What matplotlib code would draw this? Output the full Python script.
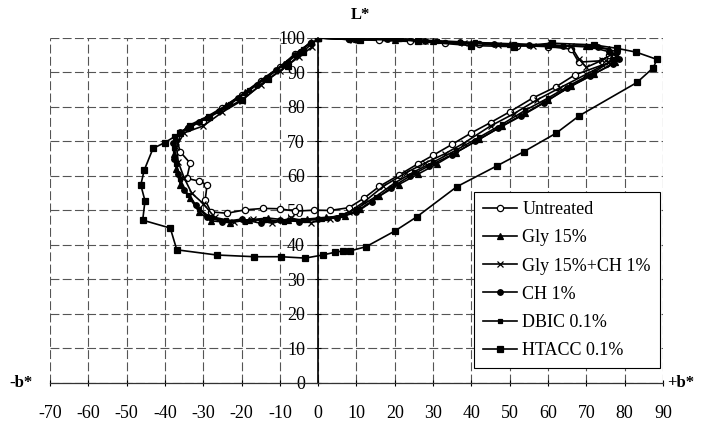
import matplotlib
matplotlib.use("Agg")
import matplotlib.pyplot as plt

plt.rcParams['font.family'] = ['Liberation Serif', 'DejaVu Serif']
plt.rcParams['axes.unicode_minus'] = False

# colour path of each treatment: b* (x) and L* (y)
untreated_b = [0, 8, 16, 24, 33, 42, 52, 60, 66, 68, 74, 76, 75,
               67, 62, 56, 50, 45, 40, 35, 30, 26, 21, 16, 12, 8, 3, -1, -6, -10, -14.3, -19, -23.8, -28,
               -29.5, -29, -31, -34.3, -33.4, -36, -37,
               -34, -30, -25, -20, -15, -10, -6, -2]
untreated_L = [100, 99.6, 99.3, 99.0, 98.6, 98.2, 97.8, 97.5, 96.8, 93, 93.4, 95, 92.5,
               89.3, 85.8, 82.6, 78.6, 75.5, 72.5, 69.2, 66, 63.5, 60.2, 57, 53.6, 50.8, 50, 50.1, 49.8, 50.5, 50.6, 50.2, 49.2, 49.6,
               53, 57.4, 58.5, 59.3, 63.7, 67, 71,
               74, 76, 79.8, 83.5, 87.5, 91.5, 95.5, 98.6]

gly_b = [0, 10, 20, 30, 40, 50, 60, 70, 76, 78, 77.5,
         72, 66, 60, 54, 48, 42, 36, 31, 26, 21, 16, 11, 7, 2, -3, -8, -13, -18, -23, -28,
         -31, -33.5, -36, -37, -37.5, -37,
         -34, -29, -24, -19, -14, -9, -5, -2]
gly_L = [100, 99.7, 99.5, 99.0, 98.5, 98.2, 97.9, 97.6, 96.8, 94.5, 93,
         89.5, 86, 82, 78.2, 74.5, 70.6, 66.8, 63.5, 60.5, 57.5, 54.2, 50.5, 48.5, 48, 47.5, 47.2, 47.8, 47.3, 46.5, 47,
         49.5, 53.5, 57.5, 62, 66.5, 71,
         74.5, 77.2, 80.5, 84.4, 88.5, 92.5, 96, 98.8]

glych_b = [0, 9, 19, 28, 38, 47, 56, 66, 68, 70, 74, 77, 76,
           70, 63, 57, 51, 45, 38, 33, 28, 23, 17, 12, 8, 3, -2, -7, -12, -17, -22, -27,
           -30, -33, -35, -36.5, -37,
           -35, -30, -25, -20, -15, -10, -5, -1.5]
glych_L = [100, 99.5, 99.6, 99.2, 98.6, 98.0, 97.7, 97.6, 94, 91.5, 93.5, 95.5, 93,
           89.5, 85.5, 82, 78, 74.5, 69.5, 66.4, 63.8, 61, 57, 52.5, 49.5, 47.5, 46.5, 47.8, 46.3, 47.5, 46.8, 48,
           52, 55, 59.5, 64, 68.5,
           72.5, 74.5, 78.5, 81.8, 86.5, 90.5, 94.5, 97.5]

ch_b = [0, 8, 18, 28, 37, 46, 55, 64, 73, 78, 78.5, 77,
        71, 65, 59, 53, 47, 41, 35, 29, 24, 19, 14, 10, 5, 0, -5, -10, -15, -20, -25, -29,
        -32, -35, -36.5, -37.5, -38,
        -36, -31, -26, -21, -16, -11, -6, -2]
ch_L = [100, 99.8, 99.6, 99.1, 98.7, 98.4, 98.0, 97.7, 97.5, 96, 94, 92.5,
        89, 85.5, 81.2, 77.4, 73.8, 70, 66.2, 63, 60, 56.6, 52.5, 49.5, 47.8, 47.5, 46.8, 47.2, 46.3, 47.5, 46.7, 48.2,
        51.5, 56, 60.5, 65, 69.5,
        72.8, 75.6, 78.8, 82.5, 86.5, 90.8, 95, 98.5]

dbic_b = [0, 11, 21, 31, 41, 51, 61, 71, 76, 77,
          72, 66, 60, 54, 48, 42, 36, 30, 25, 20, 15, 10, 6, 1, -4, -9, -14, -19, -24, -28,
          -31, -34, -36, -37, -37.5, -37.5,
          -34, -29, -23, -18, -13, -8, -4]
dbic_L = [100, 99.6, 99.7, 99.2, 98.7, 98.3, 97.9, 97.4, 96, 93.8,
          90, 86.5, 82.6, 79, 75, 71.2, 67.5, 64, 61.2, 58, 54, 50.5, 48.6, 47.5, 47.3, 46.7, 47.5, 46.8, 47.2, 47.8,
          50.5, 54.5, 59, 63.5, 68, 71.5,
          74, 76.8, 80.8, 84.8, 88.8, 93, 96.7]

htacc_b = [0, 11, 21, 26, 40, 51, 61, 72, 78, 83, 88.4, 87.5, 83.2,
           68.2, 62.1, 53.6, 46.6, 36.2, 25.8, 20.1, 12.5, 8.4, 6.6, 4.4, 1.2, -3.4, -9.7, -16.7, -26.5,
           -36.9, -38.6, -45.8, -45.2, -46.3, -45.4, -43.1, -40,
           -36, -33.4, -28.4, -20, -13, -8, -4, 0]
htacc_L = [100, 99.4, 100, 99, 97.8, 97.5, 98.5, 98, 97, 95.9, 93.8, 91.4, 87.1,
           77.5, 72.4, 67, 62.9, 56.9, 48.2, 44.1, 39.5, 38.3, 38.3, 37.9, 37.1, 36.2, 36.6, 36.6, 37.1,
           38.6, 44.9, 47.2, 52.8, 57.4, 61.7, 68, 69.7,
           72.4, 74.5, 77.1, 82, 88, 92, 96, 100]

x_ticks = list(range(-70, 91, 10))
y_ticks = list(range(0, 101, 10))

fig = plt.figure(figsize=(7.02, 4.23), dpi=100)
ax = fig.add_axes([0.0712, 0.0946, 0.8732, 0.8156])

series = [
    (untreated_b, untreated_L, 'o', 'white', 4.5, 'Untreated'),
    (gly_b, gly_L, '^', 'black', 4.5, 'Gly 15%'),
    (glych_b, glych_L, 'x', 'black', 4.5, 'Gly 15%+CH 1%'),
    (ch_b, ch_L, 'o', 'black', 4, 'CH 1%'),
    (dbic_b, dbic_L, 's', 'black', 2.5, 'DBIC 0.1%'),
    (htacc_b, htacc_L, 's', 'black', 4, 'HTACC 0.1%'),
]
for b, L, mk, face, ms, name in series:
    ax.plot(b, L, color='black', lw=1.2, marker=mk, ms=ms, mfc=face,
            mec='black', mew=0.9, label=name, zorder=3)

ax.set_xlim(-70, 90)
ax.set_ylim(0, 100)
ax.set_xticks(x_ticks)
ax.set_yticks(y_ticks)

# dashed grid over the whole field, axes crossing at the origin
ax.grid(True, color='#555555', lw=0.8, linestyle=(0, (8, 3)), zorder=0)
ax.spines['left'].set_position(('data', 0))
ax.spines['left'].set_linewidth(1.2)
ax.spines['bottom'].set_linewidth(0.9)
ax.spines['bottom'].set_color('#333333')
for side in ['top', 'right']:
    ax.spines[side].set_visible(False)

ax.tick_params(axis='y', direction='inout', length=5, pad=7, labelsize=13)
ax.tick_params(axis='x', direction='inout', length=5, pad=13, labelsize=13)

fig.text(360 / 702, 1 - 15 / 423, 'L*', ha='center', va='center',
         fontsize=12, fontweight='bold')
fig.text(9 / 702, 1 - 383 / 423, '-b*', ha='left', va='center',
         fontsize=12, fontweight='bold')
fig.text(667 / 702, 1 - 383 / 423, '+b*', ha='left', va='center',
         fontsize=12, fontweight='bold')

leg = ax.legend(loc='lower right', bbox_to_anchor=(0.995, 0.043), borderaxespad=0,
                fontsize=13, frameon=True, fancybox=False, framealpha=1,
                edgecolor='black', labelspacing=0.62, handlelength=1.9,
                handletextpad=0.3, borderpad=0.5)
leg.get_frame().set_linewidth(0.8)
leg.set_zorder(5)

fig.savefig('out.png', dpi=100)
